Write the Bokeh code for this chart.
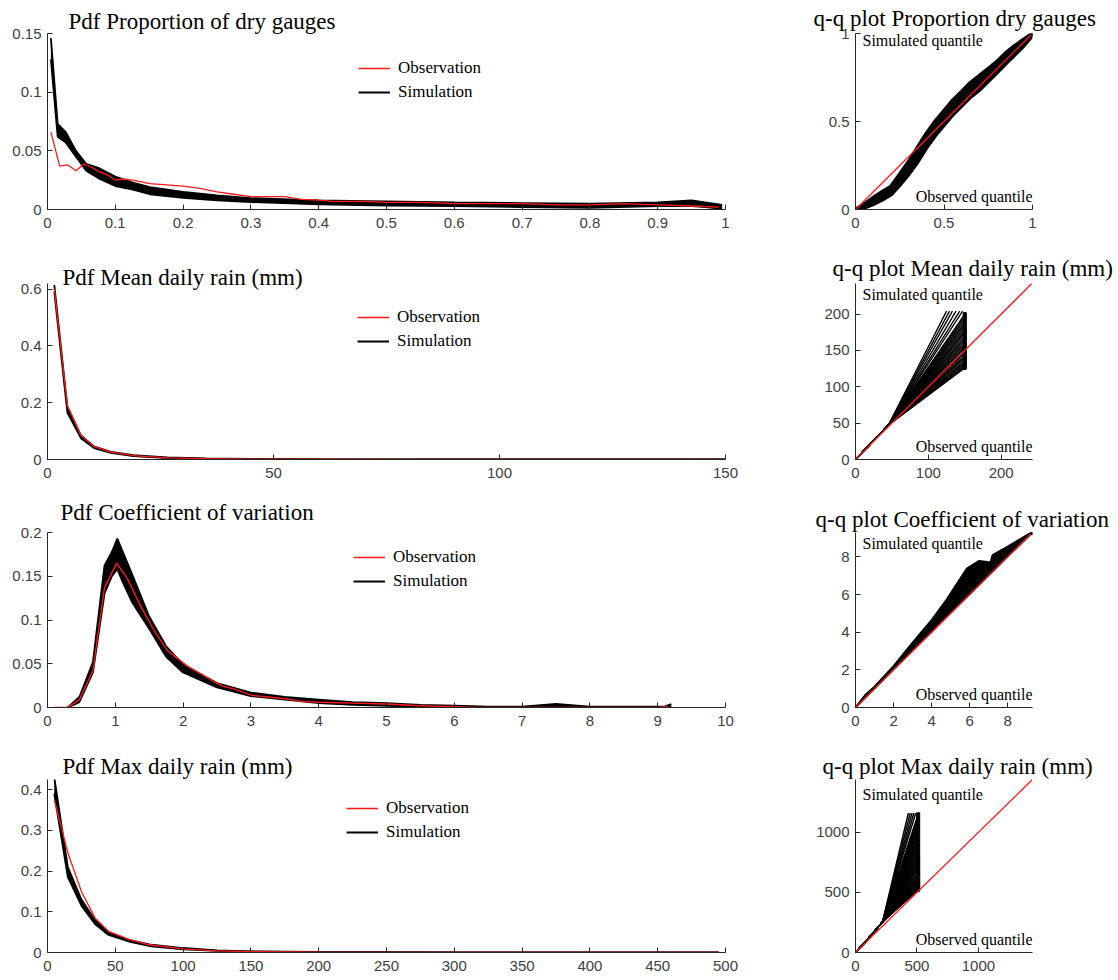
from bokeh.plotting import figure
from bokeh.models import Range1d, FixedTicker, Label, Legend, LegendItem
from bokeh.layouts import column, row
from bokeh.embed import file_html
from bokeh.resources import INLINE

# ---------------- DATA ----------------
# Row 1: Pdf proportion of dry gauges
dry_obs_x = [0.005, 0.018, 0.03, 0.042, 0.054, 0.065, 0.077, 0.09, 0.1, 0.111, 0.126, 0.151, 0.176, 0.2, 0.225,
             0.25, 0.275, 0.3, 0.35, 0.374, 0.4, 0.42, 0.47, 0.5, 0.55, 0.6, 0.65, 0.7, 0.75, 0.8, 0.85, 0.9, 0.95, 0.99]
dry_obs_y = [0.066, 0.037, 0.038, 0.033, 0.039, 0.036, 0.032, 0.029, 0.025, 0.026, 0.025, 0.022, 0.021, 0.020, 0.018,
             0.015, 0.013, 0.011, 0.011, 0.0086, 0.008, 0.007, 0.007, 0.006, 0.006, 0.005, 0.005, 0.005, 0.004, 0.004,
             0.005, 0.004, 0.003, 0.002]
dry_sim_x = [0.005, 0.015, 0.027, 0.042, 0.057, 0.077, 0.1, 0.126, 0.151, 0.2, 0.25, 0.3, 0.4, 0.5, 0.6, 0.7, 0.8,
             0.9, 0.95, 0.97, 0.995]
dry_sim_hi = [0.146, 0.073, 0.066, 0.050, 0.039, 0.035, 0.028, 0.023, 0.019, 0.015, 0.012, 0.0097, 0.0077, 0.007,
              0.006, 0.0055, 0.005, 0.006, 0.0078, 0.006, 0.004]
dry_sim_lo = [0.128, 0.062, 0.057, 0.045, 0.033, 0.026, 0.020, 0.017, 0.013, 0.010, 0.0077, 0.0063, 0.0043, 0.0034,
              0.003, 0.002, 0.0015, 0.003, 0.003, 0.002, 0.0005]

# Row 2: Pdf mean daily rain
mean_obs_x = [1.5, 4.4, 7.4, 10.3, 14, 19, 26.5, 35, 45, 60, 80, 100, 125, 148]
mean_obs_y = [0.60, 0.19, 0.085, 0.045, 0.026, 0.014, 0.006, 0.003, 0.0015, 0.0008, 0.0004, 0.0002, 0.0001, 0.0]
mean_sim_x = [1.5, 4.4, 7.4, 10.3, 14, 19, 26.5, 35, 45, 60, 80, 100, 125, 150]
mean_sim_hi = [0.615, 0.185, 0.085, 0.046, 0.027, 0.015, 0.007, 0.0035, 0.002, 0.001, 0.0005, 0.0003, 0.0002, 0.0001]
mean_sim_lo = [0.59, 0.165, 0.075, 0.040, 0.023, 0.012, 0.005, 0.002, 0.001, 0.0004, 0.0002, 0.0001, 0.0, 0.0]

# Row 3: Pdf coefficient of variation
cv_obs_x = [0.1, 0.3, 0.47, 0.67, 0.84, 1.02, 1.18, 1.38, 1.58, 1.77, 2.07, 2.36, 2.56, 2.76, 3.0, 3.25, 3.5,
            3.75, 4.0, 4.5, 5.0, 5.5, 6.0, 6.3, 7.0, 8.0, 9.0, 9.15]
cv_obs_y = [0.0, 0.0, 0.009, 0.042, 0.137, 0.165, 0.147, 0.115, 0.087, 0.065, 0.047, 0.034, 0.025, 0.021, 0.014,
            0.012, 0.010, 0.007, 0.006, 0.005, 0.004, 0.002, 0.001, 0.0, 0.0, 0.0, 0.0, 0.001]
cv_sim_x = [0.3, 0.47, 0.67, 0.84, 0.95, 1.03, 1.1, 1.25, 1.5, 1.75, 2.0, 2.5, 3.0, 3.5, 4.0, 4.5, 5.0, 5.5, 6.0,
            6.5, 7.0, 7.5, 8.0, 9.1, 9.2]
cv_sim_hi = [0.0, 0.012, 0.052, 0.162, 0.178, 0.193, 0.18, 0.152, 0.104, 0.07, 0.049, 0.028, 0.017, 0.012, 0.009,
             0.006, 0.005, 0.003, 0.002, 0.001, 0.001, 0.004, 0.001, 0.001, 0.004]
cv_sim_lo = [0.0, 0.006, 0.04, 0.13, 0.15, 0.158, 0.145, 0.12, 0.09, 0.058, 0.04, 0.023, 0.013, 0.009, 0.005,
             0.003, 0.002, 0.001, 0.0005, 0.0, 0.0, 0.0005, 0.0, 0.0, 0.0]

# Row 4: Pdf max daily rain
max_obs_x = [5, 15, 25, 35, 45, 60, 75, 100, 125, 150, 200, 250, 300, 400, 495]
max_obs_y = [0.375, 0.245, 0.15, 0.085, 0.052, 0.032, 0.019, 0.009, 0.004, 0.002, 0.001, 0.0005, 0.0003, 0.0001, 0.0]
max_sim_x = [5, 15, 25, 35, 45, 60, 75, 100, 125, 150, 200, 250, 300, 400, 495]
max_sim_hi = [0.43, 0.21, 0.13, 0.08, 0.05, 0.031, 0.02, 0.011, 0.005, 0.003, 0.0015, 0.0008, 0.0004, 0.0002, 0.0001]
max_sim_lo = [0.39, 0.185, 0.115, 0.07, 0.043, 0.027, 0.016, 0.008, 0.004, 0.002, 0.0008, 0.0003, 0.0001, 0.0, 0.0]

# q-q plots
dry_qq_x = [0, 0.05, 0.1, 0.15, 0.2, 0.25, 0.3, 0.35, 0.4, 0.45, 0.5, 0.55, 0.6, 0.65, 0.7, 0.75, 0.8, 0.85, 0.9, 0.95, 1.0]
dry_qq_hi = [0, 0.03, 0.066, 0.10, 0.13, 0.2, 0.27, 0.35, 0.43, 0.5, 0.56, 0.62, 0.67, 0.72, 0.76, 0.8, 0.84, 0.89, 0.93, 0.965, 1.0]
dry_qq_lo = [0, 0.01, 0.03, 0.055, 0.085, 0.14, 0.2, 0.27, 0.35, 0.42, 0.48, 0.54, 0.59, 0.64, 0.68, 0.73, 0.78, 0.83, 0.88, 0.93, 0.99]

mean_qq_base_x = [0, 20, 45]
mean_qq_base_y = [0, 21, 47]
mean_qq_obs_max = 150
mean_qq_sim_max = [126, 128, 130, 132, 134, 136, 139, 141, 143, 146, 148, 150, 153, 155, 158, 160, 163, 166, 168,
                   171, 174, 176, 179, 182, 185, 188, 191, 194, 197, 200]
mean_qq_steep_x = [125, 129, 133, 138, 143, 147]
mean_qq_steep_y = 204

cv_qq_x = [0, 0.5, 1, 2, 3, 4, 4.8, 5.85, 6.5, 7.1, 7.2, 8, 9.29]
cv_qq_hi = [0, 0.65, 1.1, 2.2, 3.45, 4.64, 5.75, 7.38, 7.79, 7.7, 8.1, 8.55, 9.33]
cv_qq_lo = [0, 0.52, 1.02, 2.03, 3.03, 4.03, 4.83, 5.88, 6.53, 7.13, 7.23, 8.03, 9.3]

max_qq_base_x = [0, 100, 220]
max_qq_base_y = [0, 110, 255]
max_qq_obs_max = 510
max_qq_sim_max = [520, 535, 550, 565, 580, 595, 610, 625, 640, 660, 680, 700, 720, 740, 760, 780, 800, 825, 850,
                  875, 900, 925, 950, 975, 1000, 1025, 1050, 1075, 1100, 1125, 1150]
max_qq_steep_x = [430, 445, 460, 475, 490]
max_qq_steep_y = 1160

# ticks
dry_xt = [0, 0.1, 0.2, 0.3, 0.4, 0.5, 0.6, 0.7, 0.8, 0.9, 1]
dry_xl = ["0", "0.1", "0.2", "0.3", "0.4", "0.5", "0.6", "0.7", "0.8", "0.9", "1"]
dry_yt = [0, 0.05, 0.1, 0.15]
dry_yl = ["0", "0.05", "0.1", "0.15"]
mean_xt = [0, 50, 100, 150]
mean_xl = ["0", "50", "100", "150"]
mean_yt = [0, 0.2, 0.4, 0.6]
mean_yl = ["0", "0.2", "0.4", "0.6"]
cv_xt = [0, 1, 2, 3, 4, 5, 6, 7, 8, 9, 10]
cv_xl = ["0", "1", "2", "3", "4", "5", "6", "7", "8", "9", "10"]
cv_yt = [0, 0.05, 0.1, 0.15, 0.2]
cv_yl = ["0", "0.05", "0.1", "0.15", "0.2"]
max_xt = [0, 50, 100, 150, 200, 250, 300, 350, 400, 450, 500]
max_xl = ["0", "50", "100", "150", "200", "250", "300", "350", "400", "450", "500"]
max_yt = [0, 0.1, 0.2, 0.3, 0.4]
max_yl = ["0", "0.1", "0.2", "0.3", "0.4"]
qq1_t = [0, 0.5, 1]
qq1_l = ["0", "0.5", "1"]
qq2_xt = [0, 100, 200]
qq2_xl = ["0", "100", "200"]
qq2_yt = [0, 50, 100, 150, 200]
qq2_yl = ["0", "50", "100", "150", "200"]
qq3_t = [0, 2, 4, 6, 8]
qq3_l = ["0", "2", "4", "6", "8"]
qq4_t = [0, 500, 1000]
qq4_l = ["0", "500", "1000"]

titles_pdf = ["Pdf Proportion of dry gauges", "Pdf Mean daily rain (mm)",
              "Pdf Coefficient of variation", "Pdf Max daily rain (mm)"]
titles_qq = ["q-q plot Proportion dry gauges", "q-q plot Mean daily rain (mm)",
             "q-q plot Coefficient of variation", "q-q plot Max daily rain (mm)"]

# ---------------- LAYOUT ----------------
ROWS = [(33, 176, 38), (36, 176, 31), (42, 175, 42), (30, 173, 26)]   # top border, frame height, bottom border
PDF_TITLE = [(21, 0), (15, -13), (13, 15), (15, 1)]      # (offset from frame left, standoff)
QQ_TITLE = [(-42, 5), (-23, 6), (-40, 1), (-33, 1)]
LEG_POS = [(311, 35), (310, 34), (306, 25), (299, 29)]   # x from frame left, first item centre below frame top
SIMQ_OFF = [7, 11, 11, 15]

RED = "#ff1a1a"
AXC = "#262626"
SERIF = "Liberation Serif"


def style(p, xt, xl, yt, yl):
    p.grid.visible = False
    p.outline_line_color = None
    for ax, t, l in ((p.xaxis[0], xt, xl), (p.yaxis[0], yt, yl)):
        ax.ticker = FixedTicker(ticks=t)
        ax.major_label_overrides = {v: s for v, s in zip(t, l)}
        ax.axis_line_color = AXC
        ax.major_tick_line_color = AXC
        ax.major_tick_in = 5
        ax.major_tick_out = 0
        ax.minor_tick_line_color = None
        ax.major_label_text_font = "Liberation Sans"
        ax.major_label_text_font_size = "15px"
        ax.major_label_text_color = "#404040"
    p.xaxis[0].major_label_standoff = 8
    p.yaxis[0].major_label_standoff = 6


def set_title(p, text, off, standoff):
    p.title.text = text
    p.title.align = "left"
    p.title.offset = off
    p.title.standoff = standoff
    p.title.text_font = SERIF
    p.title.text_font_size = "23px"
    p.title.text_font_style = "normal"
    p.title.text_color = "black"


def pdf_panel(i, xr, yr, xt, xl, yt, yl, ox, oy, sx, shi, slo):
    bt, fh, bb = ROWS[i]
    p = figure(frame_width=678, frame_height=fh, min_border_left=47, min_border_right=85,
               min_border_top=bt, min_border_bottom=bb, x_range=Range1d(*xr), y_range=Range1d(*yr),
               output_backend="svg", toolbar_location=None, tools="", title=" ")
    style(p, xt, xl, yt, yl)
    set_title(p, titles_pdf[i], *PDF_TITLE[i])
    p.varea(x=sx, y1=slo, y2=shi, fill_color="black", fill_alpha=1.0)
    r_sim = p.line(sx, shi, line_color="black", line_width=1.8)
    p.line(sx, slo, line_color="black", line_width=1.8)
    r_obs = p.line(ox, oy, line_color=RED, line_width=1.3)
    lx, lc = LEG_POS[i]
    vy = fh - (lc - 10 + 44)
    leg = Legend(items=[LegendItem(label="Observation", renderers=[r_obs]),
                        LegendItem(label="Simulation", renderers=[r_sim])],
                 location=(lx, vy), padding=0, margin=0, spacing=4, glyph_width=32, glyph_height=20,
                 label_height=20, label_standoff=8, background_fill_alpha=0, border_line_alpha=0,
                 label_text_font=SERIF, label_text_font_size="17px", label_text_color="black")
    p.add_layout(leg)
    return p


def qq_base(i, xr, yr, xt, xl, yt, yl):
    bt, fh, bb = ROWS[i]
    p = figure(frame_width=177, frame_height=fh, min_border_left=45, min_border_right=84,
               min_border_top=bt, min_border_bottom=bb, x_range=Range1d(*xr), y_range=Range1d(*yr),
               output_backend="svg", toolbar_location=None, tools="", title=" ")
    style(p, xt, xl, yt, yl)
    set_title(p, titles_qq[i], *QQ_TITLE[i])
    p.add_layout(Label(x=xr[0], y=yr[1], x_offset=7, y_offset=-SIMQ_OFF[i], text="Simulated quantile",
                       text_font=SERIF, text_font_size="16px", text_baseline="middle", text_align="left",
                       text_color="black"))
    p.add_layout(Label(x=xr[1], y=yr[0], x_offset=0, y_offset=13, text="Observed quantile",
                       text_font=SERIF, text_font_size="16px", text_baseline="middle", text_align="right",
                       text_color="black"))
    return p


# ---- build panels ----
p1 = pdf_panel(0, (0, 1), (0, 0.15), dry_xt, dry_xl, dry_yt, dry_yl, dry_obs_x, dry_obs_y, dry_sim_x, dry_sim_hi, dry_sim_lo)
p2 = pdf_panel(1, (0, 150), (0, 0.62), mean_xt, mean_xl, mean_yt, mean_yl, mean_obs_x, mean_obs_y, mean_sim_x, mean_sim_hi, mean_sim_lo)
p3 = pdf_panel(2, (0, 10), (0, 0.2), cv_xt, cv_xl, cv_yt, cv_yl, cv_obs_x, cv_obs_y, cv_sim_x, cv_sim_hi, cv_sim_lo)
p4 = pdf_panel(3, (0, 500), (0, 0.425), max_xt, max_xl, max_yt, max_yl, max_obs_x, max_obs_y, max_sim_x, max_sim_hi, max_sim_lo)

# q-q 1
q1 = qq_base(0, (0, 1), (0, 1), qq1_t, qq1_l, qq1_t, qq1_l)
q1.patch(dry_qq_x + dry_qq_x[::-1], dry_qq_hi + dry_qq_lo[::-1], fill_color="black", line_color="black", line_width=4)
q1.line([0, 1], [0, 1], line_color=RED, line_width=1.3)
q1.scatter([1], [1], size=4, color="black")

# q-q 2
q2 = qq_base(1, (0, 243), (0, 242), qq2_xt, qq2_xl, qq2_yt, qq2_yl)
xs2 = [mean_qq_base_x + [mean_qq_obs_max] for _ in mean_qq_sim_max] + [mean_qq_base_x + [sx] for sx in mean_qq_steep_x]
ys2 = [mean_qq_base_y + [e] for e in mean_qq_sim_max] + [mean_qq_base_y + [mean_qq_steep_y] for _ in mean_qq_steep_x]
q2.multi_line(xs2, ys2, line_color="black", line_width=1.3)
q2.scatter([mean_qq_obs_max] * len(mean_qq_sim_max), mean_qq_sim_max, marker="square", size=3, color="black")
q2.line([0, 243], [0, 243], line_color=RED, line_width=1.3)

# q-q 3
q3 = qq_base(2, (0, 9.3), (0, 9.3), qq3_t, qq3_l, qq3_t, qq3_l)
q3.patch(cv_qq_x + cv_qq_x[::-1], cv_qq_hi + cv_qq_lo[::-1], fill_color="black", line_color="black", line_width=2)
q3.line([0, 9.29], [0, 9.3], line_color=RED, line_width=1.3)
q3.scatter([9.29], [9.3], size=4, color="black")

# q-q 4
q4 = qq_base(3, (0, 1440), (0, 1440), qq4_t, qq4_l, qq4_t, qq4_l)
xs4 = [max_qq_base_x + [max_qq_obs_max] for _ in max_qq_sim_max] + [max_qq_base_x + [sx] for sx in max_qq_steep_x]
ys4 = [max_qq_base_y + [e] for e in max_qq_sim_max] + [max_qq_base_y + [max_qq_steep_y] for _ in max_qq_steep_x]
q4.multi_line(xs4, ys4, line_color="black", line_width=1.5)
q4.scatter([max_qq_obs_max] * len(max_qq_sim_max), max_qq_sim_max, marker="square", size=3, color="black")
q4.line([0, 1440], [0, 1440], line_color=RED, line_width=1.3)

layout = column(row(p1, q1), row(p2, q2), row(p3, q3), row(p4, q4))

open("out.html", "w").write(file_html(layout, INLINE))
